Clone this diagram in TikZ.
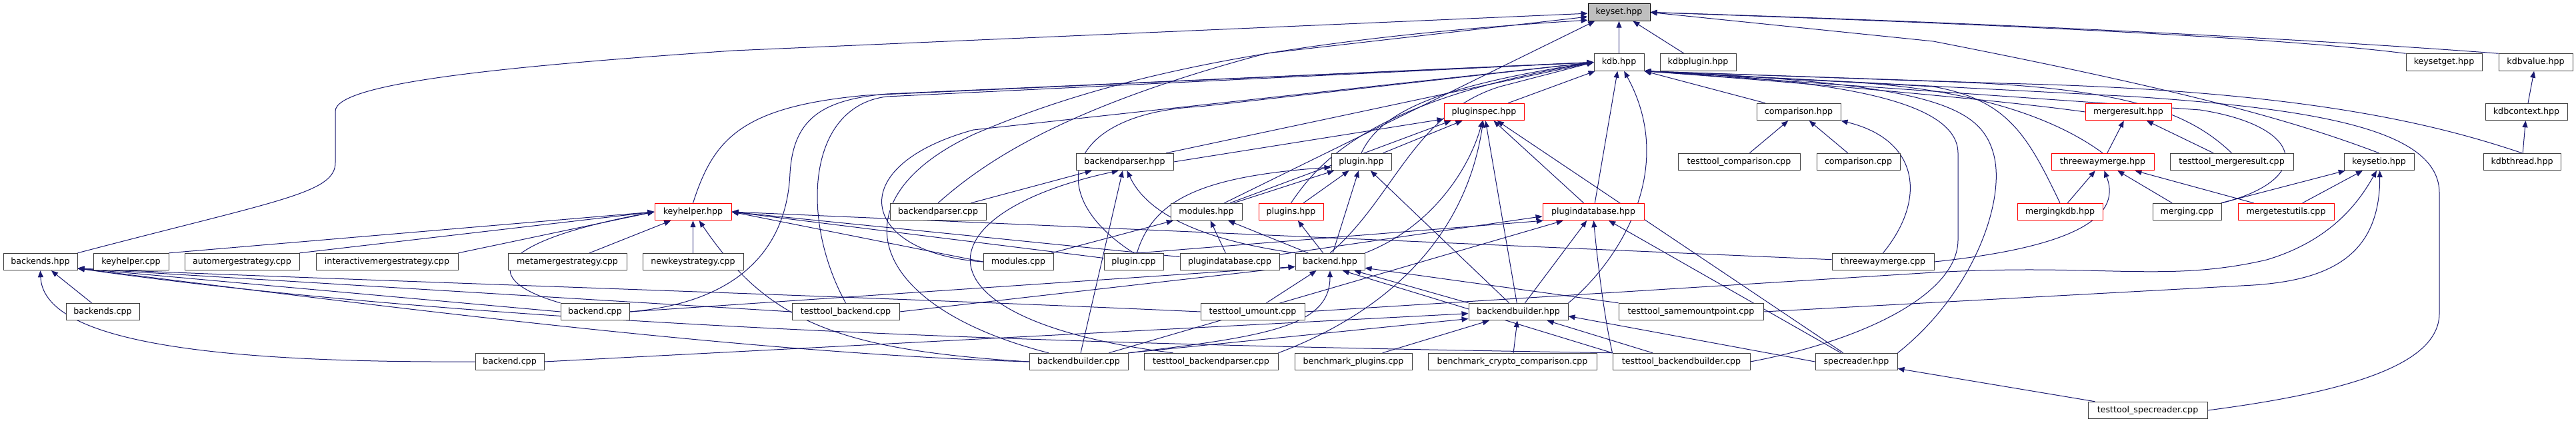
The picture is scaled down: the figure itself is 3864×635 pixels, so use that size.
\documentclass[tikz,border=0pt]{standalone}
\usepackage{fontspec}
\setmainfont{DejaVu Sans}
\usetikzlibrary{arrows.meta}
\definecolor{edgeblue}{HTML}{191970}
\definecolor{boxgray}{HTML}{404040}
\definecolor{rootgray}{HTML}{BFBFBF}
\pgfdeclarelayer{bg}
\pgfsetlayers{bg,main}
\begin{document}
\begin{tikzpicture}[x=0.75pt,y=-0.75pt,
  file/.style={draw=boxgray,fill=white,line width=0.75pt,inner sep=0pt,minimum height=19.1pt,font=\fontsize{9.5}{11}\selectfont},
  trunc/.style={file,draw=red},
  root/.style={file,draw=black,fill=rootgray},
  boxw/.style={minimum width={#1*0.75pt}},
  dep/.style={draw=edgeblue,line width=0.75pt,-{Triangle[length=7.5pt,width=6pt]}}]
\useasboundingbox (0,0) rectangle (3864,635);

\node[root,boxw=93] (ks) at (2428.5,18.5) {keyset.hpp};
\node[file,boxw=75] (kdb) at (2428.5,93.5) {kdb.hpp};
\node[file,boxw=114] (kdbplugin) at (2547,93.5) {kdbplugin.hpp};
\node[file,boxw=114] (ksget) at (3666,93.5) {keysetget.hpp};
\node[file,boxw=111] (kdbvalue) at (3803.5,93.5) {kdbvalue.hpp};
\node[trunc,boxw=120] (pspec) at (2226,168) {pluginspec.hpp};
\node[file,boxw=126] (cmph) at (2698,168) {comparison.hpp};
\node[trunc,boxw=129] (mres) at (3192.5,168) {mergeresult.hpp};
\node[file,boxw=123] (kdbctx) at (3789.5,168) {kdbcontext.hpp};
\node[file,boxw=146] (bph) at (1687,243) {backendparser.hpp};
\node[file,boxw=90] (plugh) at (2042,243) {plugin.hpp};
\node[file,boxw=183] (ttcmp) at (2608.5,243) {testtool\_comparison.cpp};
\node[file,boxw=125] (cmpcpp) at (2787.5,243) {comparison.cpp};
\node[trunc,boxw=154] (twmh) at (3154,243) {threewaymerge.hpp};
\node[file,boxw=185] (ttmres) at (3347.5,243) {testtool\_mergeresult.cpp};
\node[file,boxw=105] (ksio) at (3568.5,243) {keysetio.hpp};
\node[file,boxw=116] (kdbthr) at (3783,243) {kdbthread.hpp};
\node[trunc,boxw=115] (khh) at (1039.5,318) {keyhelper.hpp};
\node[file,boxw=144] (bpcpp) at (1407,318) {backendparser.cpp};
\node[file,boxw=107] (modh) at (1809.5,318) {modules.hpp};
\node[trunc,boxw=97] (plugsh) at (1936.5,318) {plugins.hpp};
\node[trunc,boxw=152] (pdbh) at (2390,318) {plugindatabase.hpp};
\node[trunc,boxw=128] (mkdb) at (3090,318) {mergingkdb.hpp};
\node[file,boxw=103] (mergingcpp) at (3280.5,318) {merging.cpp};
\node[trunc,boxw=144] (mtu) at (3429,318) {mergetestutils.cpp};
\node[file,boxw=111] (bsh) at (60.5,393) {backends.hpp};
\node[file,boxw=113] (khcpp) at (196.5,393) {keyhelper.cpp};
\node[file,boxw=172] (autocpp) at (363,393) {automergestrategy.cpp};
\node[file,boxw=213] (interactcpp) at (580.5,393) {interactivemergestrategy.cpp};
\node[file,boxw=178] (metacpp) at (851,393) {metamergestrategy.cpp};
\node[file,boxw=151] (newkeycpp) at (1039.5,393) {newkeystrategy.cpp};
\node[file,boxw=105] (modcpp) at (1527.5,393) {modules.cpp};
\node[file,boxw=89] (plugcpp) at (1700.5,393) {plugin.cpp};
\node[file,boxw=149] (pdbcpp) at (1844.5,393) {plugindatabase.cpp};
\node[file,boxw=104] (bh) at (1995,393) {backend.hpp};
\node[file,boxw=153] (twmcpp) at (2824.5,393) {threewaymerge.cpp};
\node[file,boxw=110] (bscpp) at (154,468) {backends.cpp};
\node[file,boxw=103] (bcppA) at (892.5,468) {backend.cpp};
\node[file,boxw=161] (ttb) at (1268.5,468) {testtool\_backend.cpp};
\node[file,boxw=156] (ttum) at (1879,468) {testtool\_umount.cpp};
\node[file,boxw=149] (bbh) at (2277.5,468) {backendbuilder.hpp};
\node[file,boxw=217] (ttsmp) at (2536.5,468) {testtool\_samemountpoint.cpp};
\node[file,boxw=103] (bcppB) at (764.5,543) {backend.cpp};
\node[file,boxw=148] (bbcpp) at (1618,543) {backendbuilder.cpp};
\node[file,boxw=201] (ttbp) at (1816.5,543) {testtool\_backendparser.cpp};
\node[file,boxw=176] (benchplug) at (2030,543) {benchmark\_plugins.cpp};
\node[file,boxw=253] (benchcrypto) at (2268.5,543) {benchmark\_crypto\_comparison.cpp};
\node[file,boxw=206] (ttbb) at (2522,543) {testtool\_backendbuilder.cpp};
\node[file,boxw=123] (srh) at (2784.5,543) {specreader.hpp};
\node[file,boxw=179] (ttsr) at (3221.5,616) {testtool\_specreader.cpp};

\begin{pgfonlayer}{bg}
% keyset.hpp
\draw[dep] (kdb) -- (ks);
\draw[dep] (kdbplugin) -- (ks);
\draw[dep] (bsh.north east) .. controls (420,300) and (503,290) .. (503,244) -- (503,167) .. controls (503,125) and (750,100) .. (1100,76) -- (ks.-178);
\draw[dep] (bpcpp.north) .. controls (1480,240) and (1600,160) .. (1900,80) -- (ks.-172);
\draw[dep] ([xshift=22pt]bbcpp.north west) .. controls (1300,460) and (1250,300) .. (1460,202) .. controls (1650,120) and (1900,60) .. (ks.-166);
\draw[dep] (modh) -- (ks.-160);
\draw[dep] (ksget.north west) .. controls (3450,60) and (3100,40) .. (ks.east);
\draw[dep] (kdbvalue.north west) .. controls (3550,65) and (3100,38) .. (ks.east);
\draw[dep] (ksio.north) .. controls (3450,185) and (3300,140) .. (2900,62) -- (ks.east);

% kdb.hpp
\draw[dep] (pspec) -- (kdb);
\draw[dep] (pdbh) -- (kdb);
\draw[dep] (bbh.north east) .. controls (2420,400) and (2520,260) .. (kdb.-60);
\draw[dep] (khh.north) .. controls (1070,210) and (1110,160) .. (1300,143) -- (kdb.west);
\draw[dep] (plugh.north) .. controls (2070,170) and (2150,130) .. (kdb.west);
\draw[dep] (plugsh.north) .. controls (1980,240) and (2060,150) .. (kdb.west);
\draw[dep] (bh.north) .. controls (2090,300) and (2120,170) .. (2250,130) -- (kdb.west);
\draw[dep] (bph) -- (kdb.west);
\draw[dep] (plugcpp.north) .. controls (1560,290) and (1600,170) .. (1800,160) -- (kdb.west);
\draw[dep] (modcpp.west) .. controls (1290,380) and (1260,250) .. (1460,195) -- (kdb.west);
\draw[dep] (ttb.north) .. controls (1200,330) and (1210,160) .. (1330,145) -- (kdb.west);
\draw[dep] (bcppA.east) .. controls (1100,455) and (1180,380) .. (1185,260) .. controls (1190,180) and (1230,150) .. (1330,141) -- (kdb.west);
\draw[dep] (cmph) -- (kdb.south east);
\draw[dep] (mres.west) .. controls (3000,150) and (2700,124) .. (kdb.south east);
\draw[dep] (twmh.north) .. controls (3080,175) and (2950,130) .. (2750,122) -- (kdb.south east);
\draw[dep] (mkdb.north) .. controls (3040,200) and (3010,150) .. (2900,130) -- (kdb.south east);
\draw[dep] (ttmres.north) .. controls (3280,165) and (3180,130) .. (2900,122) -- (kdb.south east);
\draw[dep] (mergingcpp.north east) .. controls (3470,270) and (3460,190) .. (3300,165) -- (kdb.south east);
\draw[dep] (kdbthr.north) .. controls (3650,185) and (3450,135) .. (3000,125) -- (kdb.south east);
\draw[dep] (ttsr.east) .. controls (3550,585) and (3659,540) .. (3659,470) -- (3659,290) .. controls (3659,200) and (3500,165) .. (3200,145) -- (kdb.south east);
\draw[dep] (srh.north east) .. controls (2960,440) and (3010,300) .. (2990,230) .. controls (2970,160) and (2900,125) .. (kdb.south east);
\draw[dep] (ttbb.east) .. controls (2800,510) and (2937,440) .. (2937,360) -- (2937,230) .. controls (2937,150) and (2750,120) .. (kdb.south east);

% right hand headers
\draw[dep] (kdbctx) -- (kdbvalue);
\draw[dep] (kdbthr) -- (kdbctx);
\draw[dep] (ttcmp) -- (cmph);
\draw[dep] (cmpcpp) -- (cmph);
\draw[dep] (twmcpp.north) .. controls (2890,300) and (2880,210) .. (cmph.south east);
\draw[dep] (twmh) -- (mres);
\draw[dep] (ttmres) -- (mres);
\draw[dep] (mkdb) -- (twmh);
\draw[dep] (mergingcpp) -- (twmh);
\draw[dep] (mtu) -- (twmh);
\draw[dep] (twmcpp.east) .. controls (3100,372) and (3185,330) .. (twmh.-80);
\draw[dep] (mergingcpp) -- (ksio);
\draw[dep] (mtu) -- (ksio);
\draw[dep] (ttum.east) -- (2900,409) .. controls (3150,395) and (3250,425) .. (3400,390) .. controls (3500,360) and (3540,300) .. (ksio.-105);
\draw[dep] (ttsmp.east) -- (3380,428) .. controls (3500,420) and (3570,380) .. (ksio.-85);

% pluginspec.hpp, plugin.hpp, plugins.hpp
\draw[dep] (bph.east) -- (pspec.-170);
\draw[dep] (modh) -- (pspec.-165);
\draw[dep] (plugh) -- (pspec);
\draw[dep] (bh.north east) .. controls (2150,340) and (2205,250) .. (pspec.-100);
\draw[dep] (ttbp.north east) .. controls (2050,480) and (2195,380) .. (pspec.-95);
\draw[dep] (bbh) -- (pspec);
\draw[dep] (pdbh) -- (pspec);
\draw[dep] (srh) -- (pspec);
\draw[dep] (modh) -- (plugh);
\draw[dep] (plugcpp.70) .. controls (1730,300) and (1800,265) .. (plugh.-170);
\draw[dep] (plugsh) -- (plugh);
\draw[dep] (bh) -- (plugh);
\draw[dep] (bbh) -- (plugh);
\draw[dep] (bh) -- (plugsh);

% backendparser.hpp, modules.hpp, plugindatabase.hpp
\draw[dep] (bpcpp) -- (bph);
\draw[dep] (bbcpp) -- (bph);
\draw[dep] (bh.north west) .. controls (1800,360) and (1720,320) .. (bph.-75);
\draw[dep] ([xshift=33pt]ttbp.north west) .. controls (1360,480) and (1380,320) .. (bph.-125);
\draw[dep] (modcpp) -- (modh);
\draw[dep] (pdbcpp) -- (modh);
\draw[dep] (bh) -- (modh);
\draw[dep] (pdbcpp) -- (pdbh.-175);
\draw[dep] (plugcpp.60) -- (pdbh.-170);
\draw[dep] (bbcpp) -- (pdbh);
\draw[dep] (bbh) -- (pdbh);
\draw[dep] (ttbb.north west) .. controls (2405,470) and (2395,380) .. (pdbh.-88);
\draw[dep] (srh) -- (pdbh);

% keyhelper.hpp
\draw[dep] (khcpp.north east) -- (khh.west);
\draw[dep] (autocpp.north east) -- (khh.west);
\draw[dep] (interactcpp.north east) -- (khh.west);
\draw[dep] (bcppA.north west) .. controls (720,420) and (730,365) .. (khh.west);
\draw[dep] (metacpp) -- (khh);
\draw[dep] (newkeycpp) -- (khh);
\draw[dep] (bbcpp.west) .. controls (1250,525) and (1150,480) .. (khh.-55);
\draw[dep] (modcpp.west) -- (khh.east);
\draw[dep] (plugcpp) -- (khh.east);
\draw[dep] (pdbcpp) -- (khh.east);
\draw[dep] (twmcpp) -- (khh.east);

% backends.hpp
\draw[dep] (bscpp) -- (bsh);
\draw[dep] (bcppA.west) -- (bsh.-10);
\draw[dep] (ttb.west) -- (bsh.-10);
\draw[dep] (ttum.west) .. controls (1300,445) and (500,420) .. (bsh.-10);
\draw[dep] (bbcpp.west) .. controls (1100,530) and (500,450) .. (bsh.-10);
\draw[dep] (ttbb.north west) .. controls (1800,520) and (800,500) .. (bsh.-10);
\draw[dep] (bcppB.west) .. controls (300,545) and (65,510) .. (bsh.south);

% backend.hpp, backendbuilder.hpp, specreader.hpp
\draw[dep] (bcppA.east) -- (bh.-172);
\draw[dep] (ttb.east) -- (bh.-172);
\draw[dep] (ttum) -- (bh);
\draw[dep] (bbcpp.north east) .. controls (1900,505) and (1995,490) .. (bh.south);
\draw[dep] (ttbb.north west) -- (bh.-35);
\draw[dep] (ttsmp.north west) -- (bh.-10);
\draw[dep] (bbh.north west) -- (bh.-20);
\draw[dep] (bcppB.east) -- (bbh.-178);
\draw[dep] (bbcpp.north east) -- (bbh.-172);
\draw[dep] (benchplug) -- (bbh);
\draw[dep] (benchcrypto) -- (bbh);
\draw[dep] (ttbb) -- (bbh);
\draw[dep] (srh.west) -- (bbh.-5);
\draw[dep] (ttsr) -- (srh);
\end{pgfonlayer}
\end{tikzpicture}
\end{document}
